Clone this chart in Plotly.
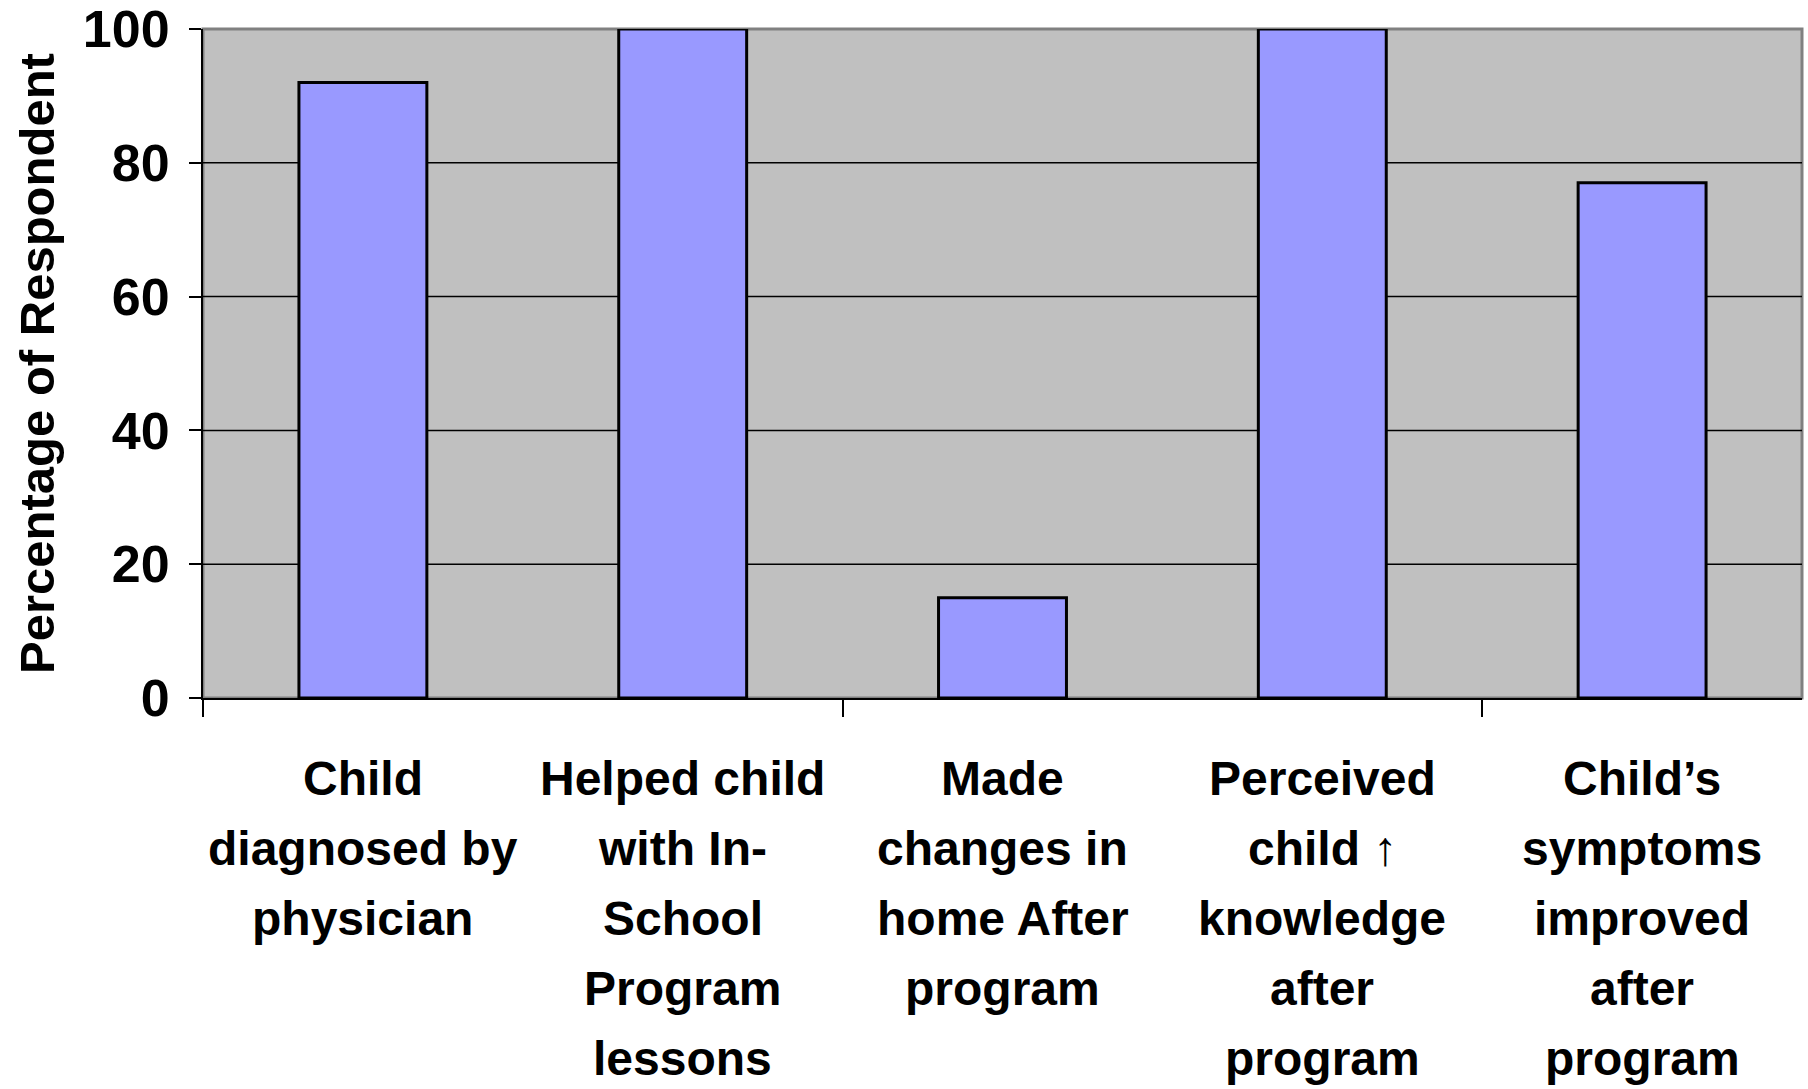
import plotly.graph_objects as go

# Survey results: share of respondents agreeing with each statement
categories = [
    ["Child", "diagnosed by", "physician"],
    ["Helped child", "with In-", "School", "Program", "lessons"],
    ["Made", "changes in", "home After", "program"],
    ["Perceived", "child \u2191", "knowledge", "after", "program"],
    ["Child\u2019s", "symptoms", "improved", "after", "program"],
]
percent = [92, 100, 15, 100, 77]
y_ticks = [0, 20, 40, 60, 80, 100]
y_title = "Percentage of Respondent"

FONT = "Liberation Sans, Arial, sans-serif"
x_pos = list(range(len(percent)))

fig = go.Figure(
    go.Bar(
        x=x_pos,
        y=percent,
        width=0.4,
        marker=dict(color="#9999FF", line=dict(color="black", width=3)),
        cliponaxis=False,
        showlegend=False,
    )
)

shapes = [
    # grey frame around the plotting area (left and bottom are covered by the axes)
    dict(type="rect", xref="paper", yref="paper", x0=0, x1=1, y0=0, y1=1,
         line=dict(color="#808080", width=3), layer="below"),
]
# horizontal gridlines at the inner tick values
for v in y_ticks[1:-1]:
    shapes.append(dict(type="line", xref="paper", yref="y", x0=0, x1=1, y0=v, y1=v,
                       line=dict(color="black", width=1.5), layer="below"))

annotations = []
for i, lines in enumerate(categories):
    for j, line in enumerate(lines):
        annotations.append(dict(
            x=i, xref="x", y=0, yref="paper", yanchor="middle", xanchor="center",
            yshift=-(80 + 70 * j), text=line, showarrow=False,
            font=dict(family=FONT, size=48, color="black", weight="bold"),
        ))

fig.update_layout(
    width=1808,
    height=1089,
    margin=dict(l=203, r=6, t=29, b=391),
    paper_bgcolor="white",
    plot_bgcolor="#C0C0C0",
    shapes=shapes,
    annotations=annotations,
    bargap=0.6,
)

fig.update_xaxes(
    range=[-0.5, len(percent) - 0.5],
    tickmode="array",
    tickvals=[-0.5, 1.5, 3.5],
    showticklabels=False,
    ticks="outside",
    ticklen=17,
    tickwidth=2,
    tickcolor="black",
    showline=True,
    linecolor="black",
    linewidth=2,
    showgrid=False,
    zeroline=False,
    automargin=False,
)

fig.update_yaxes(
    range=[0, 100],
    tickmode="array",
    tickvals=y_ticks,
    ticks="outside",
    ticklen=12,
    tickwidth=2,
    tickcolor="black",
    ticklabelstandoff=9,
    tickfont=dict(family=FONT, size=52, color="black", weight="bold"),
    showline=True,
    linecolor="black",
    linewidth=2,
    showgrid=False,
    zeroline=False,
    automargin=False,
    title=dict(text=y_title, standoff=13,
               font=dict(family=FONT, size=49, color="black", weight="bold")),
)

fig.write_html("out.html")
